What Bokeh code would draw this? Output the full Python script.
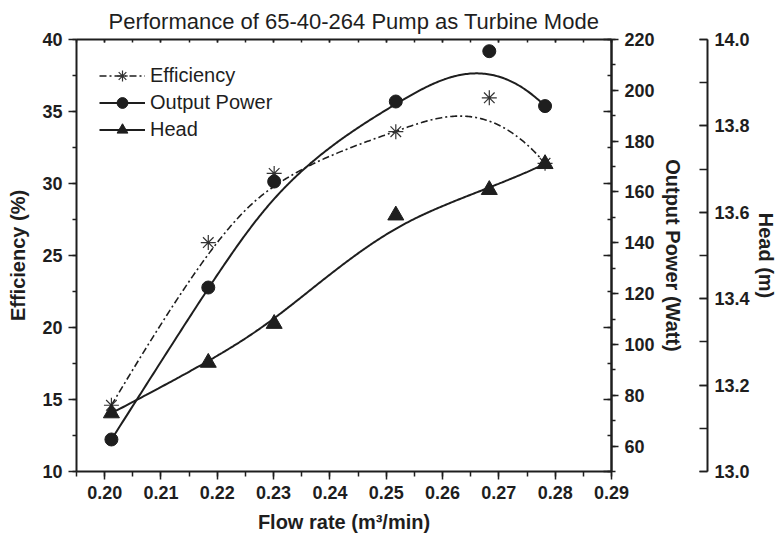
import numpy as np
from bokeh.plotting import figure
from bokeh.models import (LinearAxis, Range1d, SingleIntervalTicker,
                          NumeralTickFormatter, CustomJSTickFormatter, Legend, LegendItem)
from bokeh.embed import file_html
from bokeh.resources import INLINE

# ---- data ----
flow = [0.2012, 0.2184, 0.2301, 0.2517, 0.2683, 0.2782]          # m3/min
efficiency = [14.6, 25.9, 30.7, 33.6, 35.95, 31.4]                 # %
power = [62.6, 122.4, 164.1, 195.6, 215.4, 193.8]                  # Watt
head = [13.135, 13.252, 13.342, 13.593, 13.652, 13.712]            # m

series_names = ["Efficiency", "Output Power", "Head"]
chart_title = "Performance of 65-40-264 Pump as Turbine Mode"

FONT = "Liberation Sans"
INK = "#1e1e1e"


def bspline(xs, ys, n=300, k=3):
    """Clamped cubic B-spline using the data points as control points."""
    P = np.column_stack([xs, ys]).astype(float)
    m = len(P)
    knots = np.concatenate([np.zeros(k), np.linspace(0, 1, m - k + 1), np.ones(k)])
    t = np.linspace(0, 1, n)
    B = np.zeros((n, len(knots) - 1))
    for i in range(len(knots) - 1):
        B[:, i] = (t >= knots[i]) & (t < knots[i + 1])
    B[t >= 1, :] = 0
    B[t >= 1, m - 1] = 1
    for p in range(1, k + 1):
        nb = np.zeros((n, len(knots) - 1 - p))
        for i in range(len(knots) - 1 - p):
            d1 = knots[i + p] - knots[i]
            d2 = knots[i + p + 1] - knots[i + 1]
            a = (t - knots[i]) / d1 * B[:, i] if d1 > 0 else 0
            b = (knots[i + p + 1] - t) / d2 * B[:, i + 1] if d2 > 0 else 0
            nb[:, i] = a + b
        B = nb
    C = B @ P
    return C[:, 0], C[:, 1]


p = figure(width=779, height=540, output_backend="svg", toolbar_location=None,
           x_range=Range1d(0.195, 0.29), y_range=Range1d(10, 40),
           min_border_left=76, min_border_top=39, min_border_bottom=69, min_border_right=160)
p.extra_y_ranges = {"power": Range1d(50, 220), "head": Range1d(13.0, 14.0)}
p.xgrid.visible = False
p.ygrid.visible = False
p.outline_line_color = None
p.background_fill_color = "white"
p.border_fill_color = "white"

p.title.text = chart_title
p.title.align = "left"
p.title.text_font = FONT
p.title.text_font_size = "22px"
p.title.text_font_style = "normal"
p.title.text_color = INK
p.title.standoff = 12
p.title.offset = 32

blank = CustomJSTickFormatter(code="return ''")


def style_axis(ax, labelled=True):
    ax.axis_line_width = 2
    ax.axis_line_color = INK
    ax.major_tick_line_width = 1.5
    ax.minor_tick_line_width = 1.5
    ax.major_tick_line_color = INK
    ax.minor_tick_line_color = INK
    ax.major_label_text_font = FONT
    ax.major_label_text_font_size = "18px"
    ax.major_label_text_font_style = "bold"
    ax.major_label_text_color = INK
    ax.axis_label_text_font = FONT
    ax.axis_label_text_font_size = "20px"
    ax.axis_label_text_font_style = "bold"
    ax.axis_label_text_color = INK
    if not labelled:
        ax.formatter = blank
        ax.major_label_standoff = 0
        ax.major_label_text_font_size = "1px"


# bottom x axis
xa = p.xaxis[0]
style_axis(xa)
xa.ticker = SingleIntervalTicker(interval=0.01, num_minor_ticks=2)
xa.formatter = NumeralTickFormatter(format="0.00")
xa.axis_label = "Flow rate (m\u00b3/min)"
xa.major_tick_out = 8
xa.major_tick_in = 0
xa.minor_tick_out = 5
xa.minor_tick_in = 0
xa.major_label_standoff = 6
xa.axis_label_standoff = 9

# left y axis
ya = p.yaxis[0]
style_axis(ya)
ya.ticker = SingleIntervalTicker(interval=5, num_minor_ticks=2)
ya.axis_label = "Efficiency (%)"
ya.major_tick_out = 8
ya.major_tick_in = 0
ya.minor_tick_out = 4
ya.minor_tick_in = 0
ya.major_label_standoff = 6
ya.axis_label_standoff = 10

# top mirror axis (ticks inward)
top = LinearAxis(ticker=SingleIntervalTicker(interval=0.01, num_minor_ticks=2))
style_axis(top, labelled=False)
top.major_tick_out = 0
top.major_tick_in = 3
top.minor_tick_out = 0
top.minor_tick_in = 3
p.add_layout(top, "above")

# right mirror of efficiency ticks (inward)
mir = LinearAxis(ticker=SingleIntervalTicker(interval=5, num_minor_ticks=2))
style_axis(mir, labelled=False)
mir.major_tick_out = 0
mir.major_tick_in = 8
mir.minor_tick_out = 0
mir.minor_tick_in = 4
p.add_layout(mir, "right")

# output power axis
pa = LinearAxis(y_range_name="power", ticker=SingleIntervalTicker(interval=20, num_minor_ticks=2),
                axis_label="Output Power (Watt)")
style_axis(pa)
pa.major_tick_out = 7
pa.major_tick_in = 0
pa.minor_tick_out = 4
pa.minor_tick_in = 0
pa.major_label_standoff = 6
pa.axis_label_standoff = 4
p.add_layout(pa, "right")

# invisible spacer between the two right axes
gap = LinearAxis(y_range_name="power", ticker=SingleIntervalTicker(interval=20, num_minor_ticks=0))
style_axis(gap, labelled=False)
gap.axis_line_color = None
gap.major_tick_line_color = None
gap.minor_tick_line_color = None
gap.major_tick_out = 21
gap.major_tick_in = 0
gap.minor_tick_out = 0
gap.minor_tick_in = 0
p.add_layout(gap, "right")

# head axis
ha = LinearAxis(y_range_name="head", ticker=SingleIntervalTicker(interval=0.2, num_minor_ticks=2),
                axis_label="Head (m)")
style_axis(ha)
ha.formatter = NumeralTickFormatter(format="0.0")
ha.major_tick_out = 0
ha.major_tick_in = 8
ha.minor_tick_out = 0
ha.minor_tick_in = 8
ha.major_label_standoff = 7
ha.axis_label_standoff = 2
p.add_layout(ha, "right")

# ---- series ----
ex, ey = bspline(flow, efficiency)
px_, py_ = bspline(flow, power)
hx, hy = bspline(flow, head)

eff_line = p.line(ex, ey, line_color=INK, line_width=1.6, line_dash="7 3 2 3")
eff_pts = p.scatter(flow, efficiency, marker="asterisk", size=15, line_color="#333333",
                    line_width=1.2)

pow_line = p.line(px_, py_, line_color=INK, line_width=2, y_range_name="power")
pow_pts = p.scatter(flow, power, marker="circle", size=13, fill_color=INK, line_color=INK,
                    y_range_name="power")

head_line = p.line(hx, hy, line_color=INK, line_width=2, y_range_name="head")
head_pts = p.scatter(flow, head, marker="triangle", size=16, fill_color=INK, line_color=INK,
                     y_range_name="head")

legend = Legend(items=[
    LegendItem(label=series_names[0], renderers=[eff_line, eff_pts]),
    LegendItem(label=series_names[1], renderers=[pow_line, pow_pts]),
    LegendItem(label=series_names[2], renderers=[head_line, head_pts]),
], location="top_left")
legend.border_line_color = None
legend.background_fill_alpha = 0
legend.label_text_font = FONT
legend.label_text_font_size = "20px"
legend.label_text_color = INK
legend.glyph_width = 46
legend.glyph_height = 27
legend.label_height = 27
legend.spacing = 0
legend.label_standoff = 5
legend.padding = 10
legend.margin = 23
p.add_layout(legend)

open("out.html", "w").write(file_html(p, INLINE))
